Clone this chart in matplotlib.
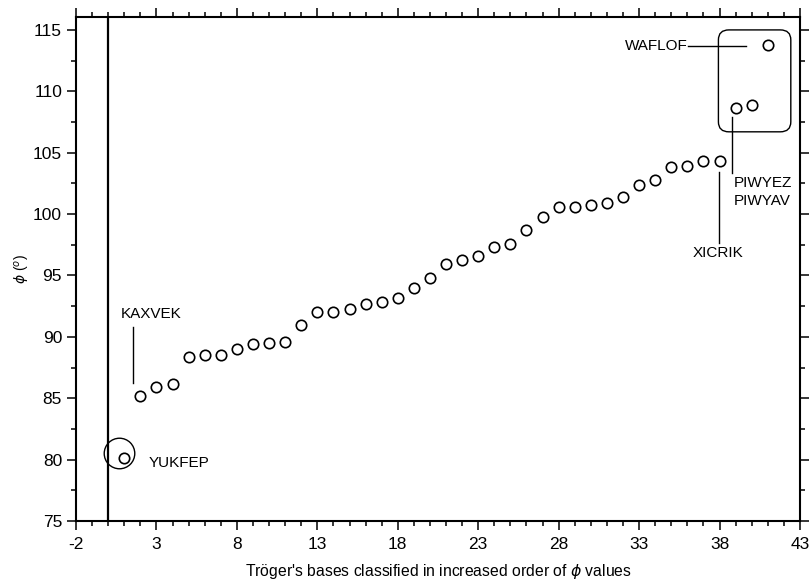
import numpy as np
import matplotlib
matplotlib.use('Agg')
from matplotlib import pyplot as plt
from matplotlib.patches import FancyBboxPatch
from matplotlib.ticker import MultipleLocator, FixedLocator

# Troger's bases, ranked by phi
rank = list(range(1, 42))
phi = [80.1, 85.2, 85.9, 86.2, 88.4, 88.5, 88.5, 89.0, 89.4, 89.5,
       89.6, 91.0, 92.0, 92.0, 92.3, 92.7, 92.8, 93.2, 94.0, 94.8,
       95.9, 96.3, 96.6, 97.3, 97.6, 98.7, 99.8, 100.6, 100.6, 100.7,
       100.9, 101.4, 102.4, 102.8, 103.8, 103.9, 104.3, 104.3, 108.6, 108.9,
       113.8]

x_ticks = [-2, 3, 8, 13, 18, 23, 28, 33, 38, 43]
y_ticks = [75, 80, 85, 90, 95, 100, 105, 110, 115]

plt.rcParams['font.family'] = ['Liberation Sans', 'DejaVu Sans']
plt.rcParams['mathtext.fontset'] = 'dejavusans'
plt.rcParams['axes.unicode_minus'] = False

fig = plt.figure(figsize=(8.12, 5.83), dpi=100)
ax = fig.add_axes([0.0936, 0.1063, 0.8916, 0.8645])

ax.plot(rank, phi, 'o', ms=7.5, mfc='white', mec='black', mew=1.2, ls='none')

ax.set_xlim(-2, 43)
ax.set_ylim(75, 116.05)
ax.xaxis.set_major_locator(FixedLocator(x_ticks))
ax.xaxis.set_minor_locator(MultipleLocator(1))
ax.yaxis.set_major_locator(FixedLocator(y_ticks))
ax.yaxis.set_minor_locator(MultipleLocator(2.5))
ax.tick_params(which='both', direction='out', top=True, right=True,
               labeltop=False, labelright=False, width=1.1, labelsize=12.5)
ax.tick_params(which='major', length=6.5)
ax.tick_params(axis='x', which='major', pad=5)
ax.tick_params(which='minor', length=3.5)
for s in ax.spines.values():
    s.set_linewidth(1.5)

ax.axvline(0, color='black', lw=1.6)

# circle round the lowest point
ax.plot(0.69, 80.56, 'o', ms=22, mfc='none', mec='black', mew=1.0)

# rounded box round the top three
box = FancyBboxPatch((37.93, 106.7), 4.5, 8.3,
                     boxstyle='round,pad=0,rounding_size=0.65',
                     mutation_aspect=1.25, fc='none', ec='black', lw=1.0)
ax.add_patch(box)

lbl = dict(fontsize=11, color='black')
ax.text(0.78, 91.86, 'KAXVEK', ha='left', va='center', **lbl)
ax.plot([1.54, 1.54], [90.83, 86.27], color='black', lw=1.0)
ax.text(2.54, 79.75, 'YUKFEP', ha='left', va='center', **lbl)
ax.text(36.04, 113.7, 'WAFLOF', ha='right', va='center', **lbl)
ax.plot([36.04, 39.64], [113.65, 113.65], color='black', lw=1.0)
ax.plot([38.75, 38.75], [107.94, 103.33], color='black', lw=1.0)
ax.text(38.9, 101.8, 'PIWYEZ\nPIWYAV', ha='left', va='center',
        linespacing=1.35, **lbl)
ax.plot([37.94, 37.94], [103.46, 97.67], color='black', lw=1.0)
ax.text(37.9, 96.8, 'XICRIK', ha='center', va='center', **lbl)

ax.set_xlabel(r"Tröger's bases classified in increased order of $\phi$ values",
              fontsize=11.3, labelpad=7)
ax.set_ylabel(r'$\phi$ ($^{o}$)', fontsize=10, labelpad=1)

fig.savefig('out.png', dpi=100)
